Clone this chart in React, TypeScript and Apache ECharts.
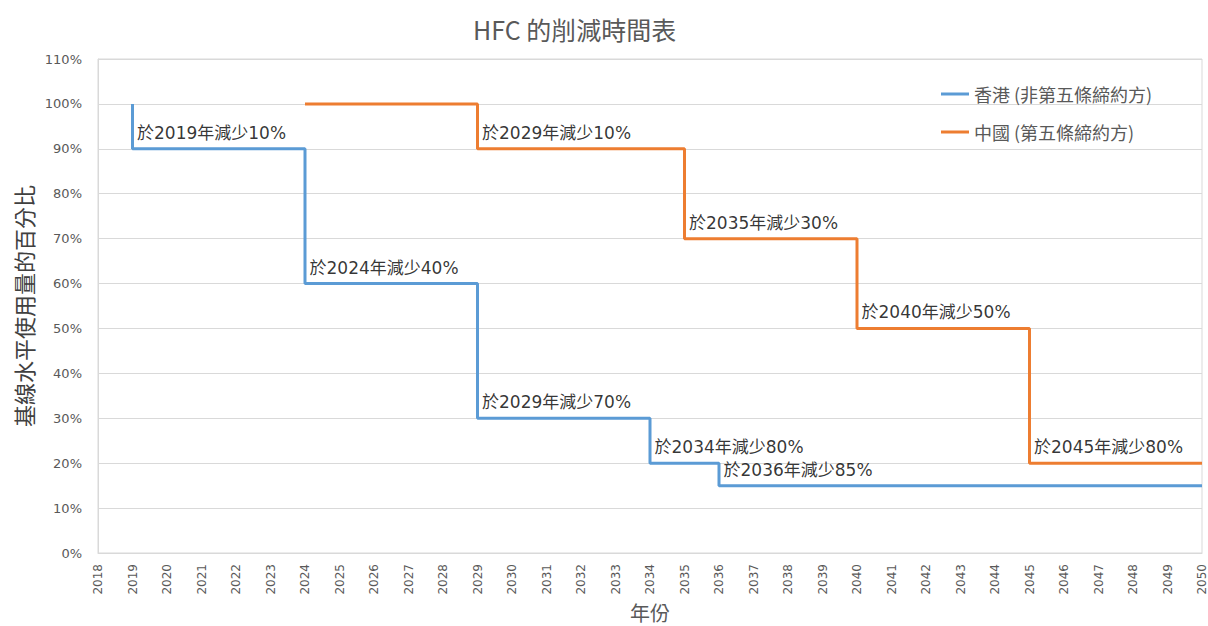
import React, { useEffect, useRef } from "react";
import * as echarts from "echarts";

const titleText = "HFC 的削減時間表";
const yAxisName = "基線水平使用量的百分比";
const xAxisName = "年份";
const hkName = "香港 (非第五條締約方)";
const cnName = "中國 (第五條締約方)";

const hkYears = [2019, 2019, 2024, 2024, 2029, 2029, 2034, 2034, 2036, 2036, 2050];
const hkValues = [100, 90, 90, 60, 60, 30, 30, 20, 20, 15, 15];

const cnYears = [2024, 2029, 2029, 2035, 2035, 2040, 2040, 2045, 2045, 2050];
const cnValues = [100, 100, 90, 90, 70, 70, 50, 50, 20, 20];

const noteYears = [2019, 2024, 2029, 2034, 2036, 2029, 2035, 2040, 2045];
const noteValues = [90, 60, 30, 20, 15, 90, 70, 50, 20];
const noteTexts = [
  "於2019年減少10%",
  "於2024年減少40%",
  "於2029年減少70%",
  "於2034年減少80%",
  "於2036年減少85%",
  "於2029年減少10%",
  "於2035年減少30%",
  "於2040年減少50%",
  "於2045年減少80%",
];

const xMin = 2018;
const xMax = 2050;

const FONT = "'DejaVu Sans', 'Noto Sans CJK TC', sans-serif";
const CJK = "'Noto Sans CJK TC', 'DejaVu Sans', sans-serif";

export default function App() {
  const ref = useRef<HTMLDivElement>(null);
  useEffect(() => {
    if (!ref.current) return;
    const chart = echarts.init(ref.current, undefined, { renderer: "svg" });
    const zip = (xs: number[], ys: number[]) => xs.map((x, i) => [x, ys[i]]);
    chart.setOption({
      animation: false,
      backgroundColor: "#ffffff",
      title: {
        text: titleText,
        left: 468,
        top: 11,
        textStyle: { fontFamily: CJK, fontSize: 25, fontWeight: "normal", color: "#595959" },
      },
      legend: {
        orient: "vertical",
        left: 936,
        top: 80,
        itemGap: 20,
        itemWidth: 28,
        itemHeight: 3,
        icon: "rect",
        data: [hkName, cnName],
        textStyle: { fontFamily: CJK, fontSize: 18, color: "#595959" },
      },
      grid: {
        left: 98,
        right: 6,
        top: 59,
        bottom: 73,
        show: true,
        borderColor: "#d9d9d9",
        borderWidth: 1,
        outerBoundsMode: "none",
        containLabel: false,
      },
      xAxis: {
        type: "value",
        min: xMin,
        max: xMax,
        interval: 1,
        name: xAxisName,
        nameLocation: "middle",
        nameGap: 41,
        nameTextStyle: { fontFamily: CJK, fontSize: 20, color: "#595959" },
        axisLine: { show: true, lineStyle: { color: "#d9d9d9" } },
        axisTick: { show: false },
        splitLine: { show: false },
        axisLabel: {
          rotate: 90,
          margin: 11,
          fontFamily: FONT,
          fontSize: 12,
          color: "#595959",
          formatter: (v: number) => String(v),
        },
      },
      yAxis: {
        type: "value",
        min: 0,
        max: 110,
        interval: 10,
        name: yAxisName,
        nameLocation: "middle",
        nameGap: 62,
        nameTextStyle: { fontFamily: CJK, fontSize: 22, color: "#404040" },
        axisLine: { show: true, lineStyle: { color: "#d9d9d9" } },
        axisTick: { show: false },
        splitLine: { show: true, lineStyle: { color: "#d9d9d9", width: 1 } },
        axisLabel: {
          margin: 16,
          fontFamily: FONT,
          fontSize: 13,
          color: "#595959",
          formatter: "{value}%",
        },
      },
      series: [
        {
          name: hkName,
          type: "line",
          data: zip(hkYears, hkValues),
          showSymbol: false,
          symbol: "none",
          lineStyle: { color: "#5B9BD5", width: 3 },
          itemStyle: { color: "#5B9BD5" },
          z: 3,
        },
        {
          name: cnName,
          type: "line",
          data: zip(cnYears, cnValues),
          showSymbol: false,
          symbol: "none",
          lineStyle: { color: "#ED7D31", width: 3 },
          itemStyle: { color: "#ED7D31" },
          z: 3,
        },
        {
          name: "notes",
          type: "scatter",
          data: noteYears.map((x, i) => ({ value: [x, noteValues[i]], name: noteTexts[i] })),
          symbolSize: 1,
          itemStyle: { color: "rgba(0,0,0,0)" },
          silent: true,
          z: 4,
          label: {
            show: true,
            position: "right",
            distance: 4,
            offset: [0, -16],
            formatter: (p: any) => p.name,
            fontFamily: FONT,
            fontSize: 17,
            color: "#000000",
          },
        },
      ],
    });
    return () => chart.dispose();
  }, []);
  return (
    <div
      ref={ref}
      style={{ position: "fixed", left: 0, top: 0, width: 1208, height: 626 }}
    />
  );
}
